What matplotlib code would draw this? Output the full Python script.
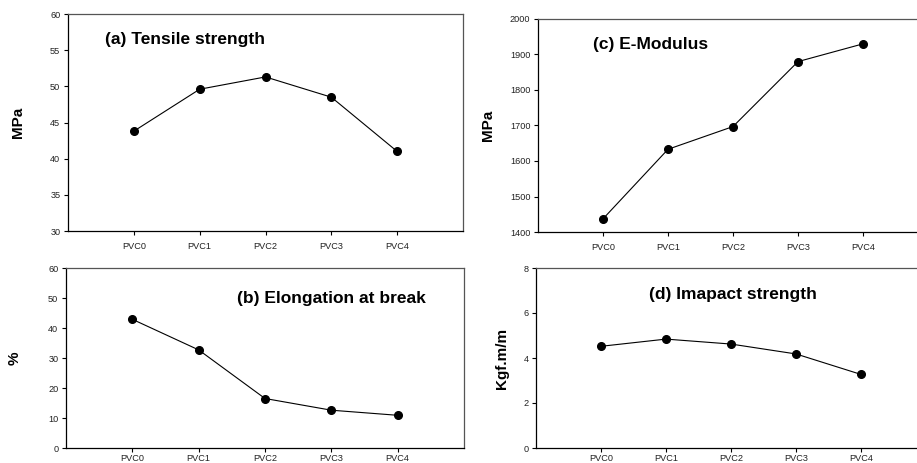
import numpy as np
from matplotlib import pyplot as plt

plt.rcParams['font.family'] = ['Liberation Sans', 'DejaVu Sans']

# samples and measured properties
samples = ['PVC0', 'PVC1', 'PVC2', 'PVC3', 'PVC4']
tensile = [43.8, 49.6, 51.3, 48.5, 41.0]
elongation = [42.9, 32.7, 16.5, 12.6, 10.9]
modulus = [1437, 1633, 1697, 1880, 1930]
impact = [4.52, 4.84, 4.62, 4.18, 3.27]

W, H = 917, 463
fig = plt.figure(figsize=(W/100, H/100), dpi=100)

def box(l, r, t, b):
    return [l/W, (H-b)/H, (r-l)/W, (b-t)/H]

x = np.arange(len(samples))

def panel(rect, y, ylim, yticks, ylabel, ylab_x, title, tx, ty, xpad):
    ax = fig.add_axes(box(*rect))
    ax.plot(x, y, color='black', lw=0.8, marker='o', ms=5.5, mfc='black', mec='black')
    ax.set_xlim(-1, 5)
    ax.set_ylim(*ylim)
    ax.set_xticks(x)
    ax.set_xticklabels(samples, fontsize=6.6, color='#222222')
    ax.set_yticks(yticks)
    ax.set_yticklabels([str(v) for v in yticks], fontsize=6.6, color='#222222')
    ax.tick_params(axis='both', direction='out', length=3, width=0.8)
    ax.tick_params(axis='x', pad=xpad)
    ax.tick_params(axis='y', pad=2.5)
    for s in ax.spines.values():
        s.set_linewidth(0.9)
    ax.spines['top'].set_color('#555555')
    ax.spines['right'].set_color('#555555')
    ax.text(tx, ty, title, transform=ax.transAxes, ha='center', va='center',
            fontsize=12.5, fontweight='bold')
    fig.text(ylab_x/W, 0.5*(2*H-rect[2]-rect[3])/H, ylabel, rotation=90,
             ha='center', va='center', fontsize=11, fontweight='bold')
    return ax

panel((68, 463, 14, 231), tensile, (30, 60), [30, 35, 40, 45, 50, 55, 60],
      'MPa', 18, '(a) Tensile strength', 0.297, 0.883, 5)
panel((66, 464, 268, 448), elongation, (0, 60), [0, 10, 20, 30, 40, 50, 60],
      '%', 15, '(b) Elongation at break', 0.667, 0.832, 1.5)
panel((538, 928, 19, 232), modulus, (1400, 2000), [1400, 1500, 1600, 1700, 1800, 1900, 2000],
      'MPa', 488, '(c) E-Modulus', 0.288, 0.878, 5)
panel((536, 926, 268, 448), impact, (0, 8), [0, 2, 4, 6, 8],
      'Kgf.m/m', 502, '(d) Imapact strength', 0.504, 0.854, 1.5)

plt.savefig('out.png', dpi=100)
